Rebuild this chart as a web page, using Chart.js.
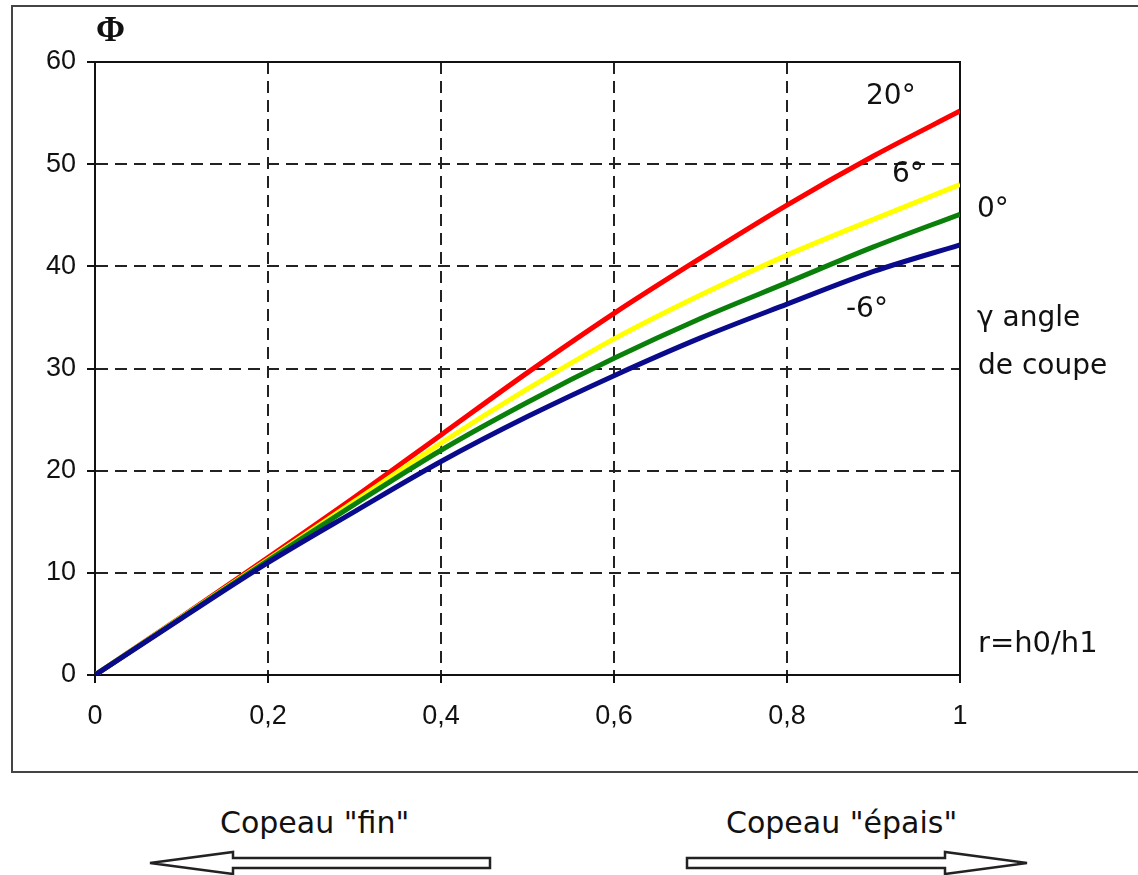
<!DOCTYPE html>
<html>
<head>
<meta charset="utf-8">
<script src="https://cdn.jsdelivr.net/npm/chart.js@4/dist/chart.umd.min.js"></script>
<style>
  html, body { margin: 0; padding: 0; background: #fff; }
  body { width: 1138px; height: 875px; position: relative; overflow: hidden; }
  #frame { position: absolute; left: 11px; top: 5px; width: 1160px; height: 768px; border: 2px solid #444; box-sizing: border-box; }
  #wrap { position: absolute; left: 0; top: 0; width: 1138px; height: 780px; }
  .lbl { position: absolute; white-space: nowrap; line-height: 1; color: #111; font-family: "DejaVu Sans", sans-serif; }
</style>
</head>
<body>
<div id="frame"></div>
<div id="wrap"><canvas id="c"></canvas></div>

<div class="lbl" style="left:96px;top:12px;font-family:'Liberation Serif',serif;font-weight:bold;font-size:35px;">Φ</div>
<div class="lbl" style="left:866px;top:81px;font-size:28px;">20°</div>
<div class="lbl" style="left:892px;top:159px;font-size:28px;">6°</div>
<div class="lbl" style="left:977px;top:194px;font-size:28px;">0°</div>
<div class="lbl" style="left:846px;top:294px;font-size:28px;">-6°</div>
<div class="lbl" style="left:977px;top:303px;font-size:28px;">γ angle</div>
<div class="lbl" style="left:978px;top:351px;font-size:28px;">de coupe</div>
<div class="lbl" style="left:978px;top:628px;font-size:29px;">r=h0/h1</div>
<div class="lbl" style="left:220px;top:808px;font-size:30px;">Copeau "fin"</div>
<div class="lbl" style="left:726px;top:808px;font-size:30px;">Copeau "épais"</div>

<svg style="position:absolute;left:0;top:0" width="1138" height="875">
  <polygon points="490,858 233,858 233,852 150,863 233,874 233,868 490,868" fill="#fff" stroke="#222" stroke-width="2.5"/>
  <polygon points="687,858 945,858 945,852 1027,863 945,874 945,868 687,868" fill="#fff" stroke="#222" stroke-width="2.5"/>
</svg>

<script>
const ratios = [0, 0.1, 0.2, 0.3, 0.4, 0.5, 0.6, 0.7, 0.8, 0.9, 1.0];
const phi20 = [0, 5.7, 11.5, 17.4, 23.5, 29.6, 35.4, 40.8, 46.0, 50.8, 55.2];
const phi6  = [0, 5.65, 11.3, 17.0, 22.7, 28.0, 32.9, 37.2, 41.1, 44.6, 48.0];
const phi0  = [0, 5.6, 11.2, 16.7, 22.0, 26.7, 31.0, 34.9, 38.4, 41.9, 45.1];
const phiM6 = [0, 5.55, 11.0, 16.0, 20.9, 25.3, 29.3, 33.0, 36.3, 39.5, 42.1];
const xTicks = [0, 0.2, 0.4, 0.6, 0.8, 1];
const yTicks = [0, 10, 20, 30, 40, 50, 60];

function pts(ys) { return ratios.map((x, i) => ({ x: x, y: ys[i] })); }
function ds(label, ys, color) {
  return { label, data: pts(ys), borderColor: color, borderWidth: 5, pointRadius: 0,
           fill: false, cubicInterpolationMode: 'monotone' };
}

const frameBox = {
  id: 'frameBox',
  beforeDatasetsDraw(chart) {
    const a = chart.chartArea, ctx = chart.ctx;
    ctx.save();
    ctx.strokeStyle = '#111';
    ctx.lineWidth = 2;
    ctx.setLineDash([]);
    ctx.strokeRect(a.left, a.top, a.right - a.left, a.bottom - a.top);
    ctx.restore();
  }
};

new Chart(document.getElementById('c'), {
  type: 'line',
  data: { datasets: [
    ds('-6°', phiM6, '#0a0a8c'),
    ds('0°', phi0, '#0a800a'),
    ds('6°', phi6, '#ffff00'),
    ds('20°', phi20, '#ff0000')
  ]},
  options: {
    responsive: true, maintainAspectRatio: false, animation: false,
    layout: { padding: { left: 0, top: 62, right: 178, bottom: 0 } },
    plugins: { legend: { display: false }, tooltip: { enabled: false } },
    scales: {
      x: {
        type: 'linear', min: 0, max: 1,
        afterBuildTicks(s) { s.ticks = xTicks.map(v => ({ value: v })); },
        afterFit(s) { s.height = 105; },
        ticks: { color: '#111', font: { family: 'Liberation Sans', size: 27 }, padding: 17,
                 maxRotation: 0, autoSkip: false,
                 callback: v => String(v).replace('.', ',') },
        grid: { color: '#222', lineWidth: 2, tickLength: 8, tickColor: '#111', tickBorderDash: [40, 0], tickWidth: 2 },
        border: { display: true, color: '#111', width: 2, dash: [12, 7] }
      },
      y: {
        type: 'linear', min: 0, max: 60,
        afterBuildTicks(s) { s.ticks = yTicks.map(v => ({ value: v })); },
        afterFit(s) { s.width = 95; },
        ticks: { color: '#111', font: { family: 'Liberation Sans', size: 27 }, padding: 11, autoSkip: false },
        grid: { color: '#222', lineWidth: 2, tickLength: 8, tickColor: '#111', tickBorderDash: [40, 0], tickWidth: 2 },
        border: { display: true, color: '#111', width: 2, dash: [12, 7] }
      }
    }
  },
  plugins: [frameBox]
});
</script>
</body>
</html>
